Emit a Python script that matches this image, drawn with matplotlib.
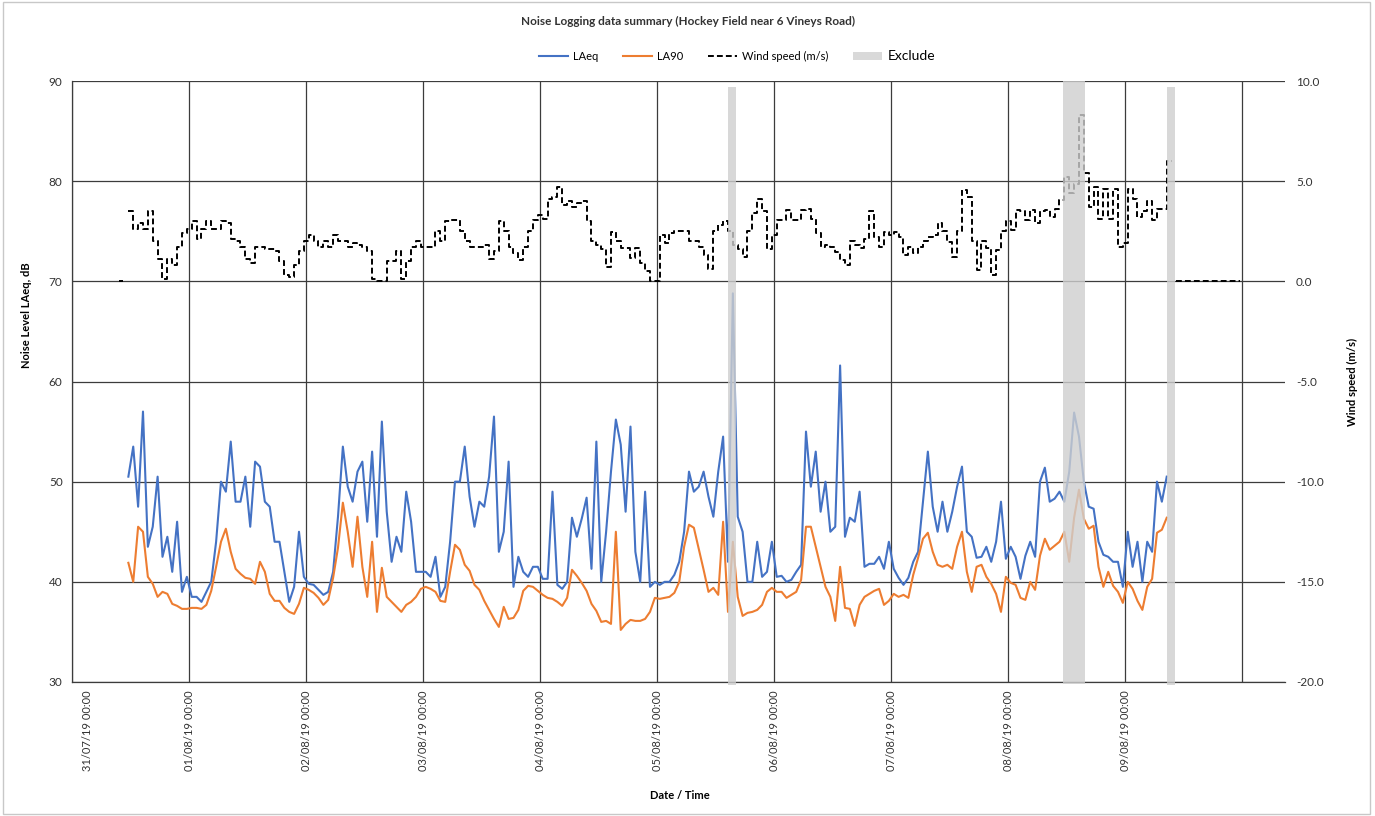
import numpy as np
import pandas as pd
import matplotlib
matplotlib.use("Agg")
import matplotlib.pyplot as plt
import matplotlib.dates as mdates
from matplotlib.lines import Line2D
from matplotlib.patches import Patch, Rectangle
from matplotlib.transforms import ScaledTranslation

plt.rcParams["font.family"] = ["Lato", "DejaVu Sans"]

nan = np.nan

# hourly readings, 31/07/19 11:30 -> 09/08/19 09:30
laeq = [
    50.5, 53.5, 47.5, 57.0, 43.5, 45.5, 50.5, 42.5, 44.5, 41.0,
    46.0, 39.0, 40.5, 38.5, 38.5, 38.0, 39.0, 40.0, 44.0, 50.0,
    49.0, 54.0, 48.0, 48.0, 50.5, 45.5, 52.0, 51.5, 48.0, 47.5,
    44.0, 44.0, 41.0, 38.0, 39.5, 45.0,
    40.5, 39.8, 39.7, 39.2, 38.7, 39.0, 41.0, 46.5, 53.5, 49.5,
    48.0, 51.0, 52.0, 46.0, 53.0, 44.5, 56.0, 47.0, 42.0, 44.5,
    43.0, 49.0, 46.0, 41.0, 41.0, 41.0, 40.5, 42.5, 38.5, 39.5,
    44.0, 50.0, 50.0, 53.5, 48.5, 45.5, 48.0, 47.5, 50.5, 56.5,
    43.0, 45.0, 52.0, 39.5, 42.5, 41.0, 40.5, 41.5,
    41.5, 40.3, 40.3, 49.0, 39.7, 39.3, 40.0, 46.4, 44.5, 46.3,
    48.4, 41.3, 54.0, 40.0, 45.0, 51.0, 56.2, 53.7, 47.0, 55.5,
    43.0, 40.0, 49.0, 39.5, 40.0, 39.7, 40.0, 40.0, 40.7, 42.0,
    45.0, 51.0, 49.0, 49.5, 51.0, 48.5, 46.5, 51.0, 54.5, 42.0,
    68.8, 46.5, 45.0, 40.0, 40.0, 44.0, 40.5, 41.0,
    44.0, 40.5, 40.6, 40.0, 40.2, 41.0, 41.7, 55.0, 49.5, 53.0,
    47.0, 50.0, 45.0, 45.5, 61.6, 44.5, 46.4, 46.0, 49.0, 41.5,
    41.8, 41.8, 42.5, 41.3, 44.0, 41.3, 40.4, 39.7, 40.4, 42.0,
    43.0, 48.0, 53.0, 47.5, 45.0, 48.0, 45.0, 47.0, 49.5, 51.5,
    45.0, 44.5, 42.4, 42.5, 43.5, 42.0, 44.0, 48.0,
    42.3, 43.5, 42.5, 40.3, 42.6, 44.0, 42.5, 50.0, 51.4, 48.0,
    48.3, 49.0, 48.0, 51.0, 56.9, 54.5, 50.0, 47.5, 47.3, 44.0,
    42.7, 42.5, 42.0, 42.0, 39.5, 45.0, 41.5, 44.0, 40.0, 44.0,
    43.0, 50.0, 48.0, 50.5,
]

la90 = [
    41.9, 40.0, 45.5, 45.0, 40.5, 39.8, 38.5, 39.0, 38.8, 37.8,
    37.6, 37.3, 37.3, 37.4, 37.4, 37.3, 37.7, 39.1, 41.5, 44.0,
    45.3, 43.0, 41.3, 40.8, 40.4, 40.3, 39.8, 42.0, 41.0, 38.8,
    38.1, 38.1, 37.4, 37.0, 36.8, 37.8,
    39.4, 39.2, 38.9, 38.4, 37.7, 38.2, 40.4, 43.4, 47.9, 45.0,
    41.5, 46.5, 41.5, 38.5, 44.0, 37.0, 41.4, 38.5, 38.0, 37.5,
    37.0, 37.7, 38.0, 38.5, 39.3, 39.5, 39.3, 39.0, 38.1, 38.0,
    41.0, 43.7, 43.2, 41.7, 41.1, 39.7, 39.2, 38.1, 37.2, 36.3,
    35.5, 37.5, 36.3, 36.4, 37.2, 39.1, 39.6, 39.5,
    39.1, 38.7, 38.4, 38.3, 38.0, 37.6, 38.4, 41.2, 40.6, 39.9,
    39.1, 37.8, 37.1, 36.0, 36.1, 35.8, 45.0, 35.2, 35.8, 36.2,
    36.1, 36.1, 36.3, 37.0, 38.4, 38.3, 38.4, 38.5, 38.9, 40.0,
    43.5, 45.7, 45.4, 43.3, 41.2, 39.0, 39.4, 38.7, 46.0, 37.0,
    44.0, 38.5, 36.6, 36.9, 37.0, 37.2, 37.7, 39.0,
    39.4, 39.0, 39.0, 38.4, 38.7, 39.0, 40.2, 45.5, 45.5, 43.5,
    41.5, 39.5, 38.5, 36.1, 41.5, 37.4, 37.3, 35.6, 37.7, 38.5,
    38.8, 39.1, 39.3, 37.7, 38.1, 38.8, 38.5, 38.7, 38.4, 40.7,
    42.4, 44.3, 44.9, 43.0, 41.7, 41.5, 41.7, 41.3, 43.5, 45.0,
    41.0, 39.0, 41.5, 41.7, 40.5, 39.8, 38.8, 37.0,
    40.5, 39.9, 39.7, 38.4, 38.2, 40.0, 39.2, 42.6, 44.3, 43.2,
    43.6, 44.0, 45.0, 42.0, 46.4, 49.2, 46.3, 45.3, 45.6, 41.5,
    39.5, 41.0, 39.6, 39.0, 37.9, 40.0, 39.3, 38.1, 37.2, 39.5,
    40.3, 44.9, 45.2, 46.4,
]

# hourly wind, 31/07/19 09:30 -> 09/08/19 23:30
wind_speed = [
    0.0, nan,
    3.5, 2.6, 2.9, 2.6, 3.5, 2.0, 1.1, 0.1, 1.1, 0.8,
    1.7, 2.4, 2.6, 3.0, 2.1, 2.6, 3.0, 2.6, 2.6, 3.0,
    2.9, 2.1, 2.0, 1.7, 1.1, 0.9, 1.7, 1.7, 1.6, 1.6,
    1.5, 1.0, 0.3, 0.2, 0.8, 1.5,
    2.0, 2.3, 2.0, 1.7, 2.0, 1.7, 2.3, 2.0, 2.0, 1.7,
    1.9, 1.8, 1.7, 1.5, 0.1, 0.0, 0.0, 1.0, 1.0, 1.5,
    0.1, 1.0, 1.7, 2.0, 1.7, 1.7, 1.7, 2.5, 2.0, 3.0,
    3.05, 3.05, 2.5, 2.0, 1.7, 1.7, 1.7, 1.8, 1.1, 1.5,
    3.0, 2.5, 1.7, 1.4, 1.05, 1.7, 2.5, 3.05,
    3.3, 3.1, 4.1, 4.2, 4.7, 3.8, 4.0, 3.7, 3.9, 4.0,
    3.0, 2.0, 1.8, 1.6, 0.7, 2.45, 2.0, 1.65, 1.65, 1.15,
    1.65, 0.9, 0.5, 0.0, 0.0, 2.3, 1.9, 2.4, 2.5, 2.5,
    2.5, 2.0, 2.0, 1.7, 1.3, 0.6, 2.5, 2.8, 3.0, 2.5,
    1.8, 1.6, 1.2, 2.5, 3.4, 4.1, 3.5, 1.6,
    2.3, 3.05, 3.05, 3.55, 3.05, 3.05, 3.55, 3.6, 3.1, 2.4,
    1.7, 1.8, 1.7, 1.45, 1.05, 0.8, 2.0, 1.8, 1.65, 2.1,
    3.5, 2.2, 1.7, 2.45, 2.3, 2.45, 2.2, 1.3, 1.7, 1.4,
    1.7, 2.0, 2.2, 2.3, 2.9, 2.5, 1.95, 1.2, 2.5, 4.55,
    4.2, 2.0, 0.55, 2.0, 1.65, 0.3, 1.55, 2.5,
    3.0, 2.55, 3.55, 3.5, 3.05, 3.55, 2.9, 3.5, 3.55, 3.2,
    3.6, 4.05, 5.2, 4.4, 4.85, 8.3, 5.4, 3.7, 4.7, 3.1,
    4.6, 3.1, 4.6, 1.7, 1.9, 4.6, 4.1, 3.2, 3.5, 4.0,
    3.05, 3.6, 3.6, 6.0,
    nan,
    0.0, 0.0, 0.0, 0.0, 0.0, 0.0, 0.0, 0.0, 0.0, 0.0, 0.0, 0.0, 0.0, 0.0,
]

exclude_start = ["2019-08-05 14:36", "2019-08-08 11:18", "2019-08-09 08:36"]
exclude_end = ["2019-08-05 16:06", "2019-08-08 15:42", "2019-08-09 10:12"]

noise_times = pd.date_range("2019-07-31 11:30", periods=len(laeq), freq="h")
wind_times = pd.date_range("2019-07-31 09:30", periods=len(wind_speed), freq="h")
day_ticks = pd.date_range("2019-07-31", "2019-08-10", freq="D")
day_labels = [d.strftime("%d/%m/%y %H:%M") for d in day_ticks[:-1]] + [""]

grid_col = "#3c3c3c"

fig = plt.figure(figsize=(13.75, 8.16), dpi=100)
ax = fig.add_axes([72.3 / 1375, 1 - 682 / 816, 1212.7 / 1375, 601 / 816])

ax.plot(noise_times, laeq, color="#4472C4", lw=1.5, zorder=3)
ax.plot(noise_times, la90, color="#ED7D31", lw=1.5, zorder=3)

ax.set_ylim(30, 90)
ax.set_yticks(range(30, 91, 10))
ax.set_xlim(pd.Timestamp("2019-07-31"), pd.Timestamp("2019-07-31") + pd.Timedelta(days=10.365))
ax.set_xticks(day_ticks)
ax.set_xticklabels(day_labels, rotation=90, fontsize=8)
ax.grid(True, color=grid_col, lw=0.9)
ax.tick_params(axis="both", length=0, labelsize=8.5, colors="#333333", pad=7)
ax.tick_params(axis="x", labelsize=8, pad=6)
for s in ["top", "right"]:
    ax.spines[s].set_visible(False)
for s in ["left", "bottom"]:
    ax.spines[s].set_color(grid_col)
    ax.spines[s].set_linewidth(0.9)

first = ax.get_xticklabels()[0]
first.set_transform(first.get_transform() + ScaledTranslation(0.15, 0, fig.dpi_scale_trans))

ax.set_ylabel("Noise Level LAeq, dB", fontweight="bold", fontsize=8)
ax.yaxis.set_label_coords(-0.033, 0.61)
ax.set_xlabel("Date / Time", fontweight="bold", fontsize=8)
ax.xaxis.set_label_coords(0.501, -0.18)

ax2 = ax.twinx()
ax2.plot(wind_times, wind_speed, color="black", lw=1.4, ls=(0, (3, 1.6)),
         drawstyle="steps-post", zorder=2)
ax2.set_ylim(-20, 10)
ax2.set_yticks(np.arange(-20, 10.1, 5))
ax2.yaxis.set_major_formatter(matplotlib.ticker.FormatStrFormatter("%.1f"))
ax2.tick_params(axis="y", length=0, labelsize=8.5, colors="#333333", pad=8)
for s in ax2.spines.values():
    s.set_visible(False)
ax2.set_ylabel("Wind speed (m/s)", fontweight="bold", fontsize=8, rotation=90)
ax2.yaxis.set_label_coords(1.051, 0.5)

for i, (a, b) in enumerate(zip(exclude_start, exclude_end)):
    lo, hi = (-0.003, 1.0) if i == 1 else (-0.005, 0.99)
    ax2.axvspan(pd.Timestamp(a), pd.Timestamp(b), ymin=lo, ymax=hi,
                color="#cfcfcf", alpha=0.8, lw=0, zorder=4, clip_on=False)

fig.text(688 / 1375, 1 - 21 / 816, "Noise Logging data summary (Hockey Field near 6 Vineys Road)",
         ha="center", va="center", fontsize=8.5, fontweight="bold", color="#333333")

handles = [
    Line2D([], [], color="#4472C4", lw=1.5),
    Line2D([], [], color="#ED7D31", lw=1.5),
    Line2D([], [], color="black", lw=1.4, ls=(0, (3, 1.6))),
    Patch(facecolor="#d9d9d9", edgecolor="none"),
]
leg = fig.legend(handles, ["LAeq", "LA90", "Wind speed (m/s)", "Exclude"],
                 loc="center", bbox_to_anchor=(737 / 1375, 1 - 56 / 816), ncol=4,
                 frameon=False, fontsize=8, handlelength=2.6, columnspacing=2.2,
                 handletextpad=0.5)
leg.get_texts()[3].set_fontsize(10)

fig.patches.append(Rectangle((0.002, 0.003), 0.994, 0.994, transform=fig.transFigure,
                             fill=False, edgecolor="#c8c8c8", lw=1))

fig.savefig("out.png", dpi=100)
